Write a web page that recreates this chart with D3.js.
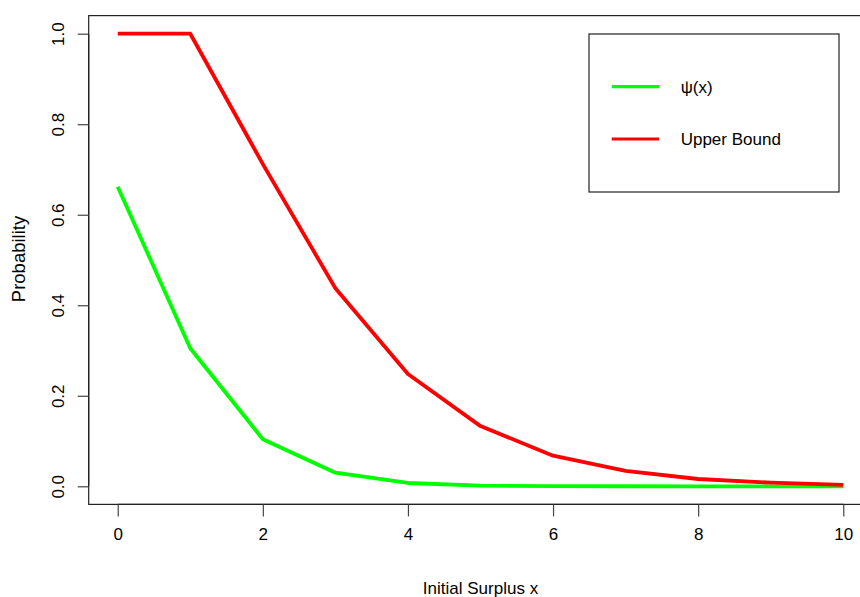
<!DOCTYPE html>
<html>
<head>
<meta charset="utf-8">
<script src="https://cdn.jsdelivr.net/npm/d3@7"></script>
<style>
  html, body { margin: 0; padding: 0; background: #fff; }
  svg { display: block; font-family: "Liberation Sans", Arial, Helvetica, sans-serif; }
</style>
</head>
<body>
<svg id="chart" width="860" height="597"></svg>
<script>
// Initial surplus values
const surplus = [0, 1, 2, 3, 4, 5, 6, 7, 8, 9, 10];
// Ruin probability psi(x)
const psi = [0.662, 0.305, 0.104, 0.030, 0.0073, 0.0015, 0.0003, 0.0001, 0, 0, 0];
// Upper bound on the ruin probability
const upperBound = [1, 1, 0.712, 0.4375, 0.248, 0.133, 0.0676, 0.034, 0.0161, 0.008, 0.003];

const xTicks = [0, 2, 4, 6, 8, 10];
const yTicks = [0.0, 0.2, 0.4, 0.6, 0.8, 1.0];
const legendLabels = ["\u03c8(x)", "Upper Bound"];
const seriesColors = ["#00ff00", "#ff0000"];

const svg = d3.select("#chart");

// Plot region (axes extended 4% beyond the data range on each side)
const x = d3.scaleLinear().domain([-0.4, 10.4]).range([88.7, 872.3]);
const y = d3.scaleLinear().domain([-0.04, 1.04]).range([504.4, 15.6]);

const fontSize = 17;

// Plot frame
svg.append("rect")
  .attr("x", x(-0.4)).attr("y", y(1.04))
  .attr("width", x(10.4) - x(-0.4)).attr("height", y(-0.04) - y(1.04))
  .attr("fill", "none").attr("stroke", "#222").attr("stroke-width", 1.2);

// X axis
const xAxis = d3.axisBottom(x).tickValues(xTicks).tickSize(12).tickPadding(12)
  .tickFormat(d3.format("d"));
const gx = svg.append("g").attr("transform", `translate(0,${y(-0.04)})`).call(xAxis);
gx.select(".domain").attr("d", `M${x(0)},0H${x(10)}`).attr("stroke", "#222").attr("stroke-width", 1.2);
gx.selectAll(".tick line").attr("stroke", "#444").attr("stroke-width", 1.2);
gx.selectAll(".tick text").attr("font-size", fontSize).attr("fill", "#000")
  .attr("font-family", "Liberation Sans, Arial, sans-serif");

// Y axis with rotated labels
const yAxis = d3.axisLeft(y).tickValues(yTicks).tickSize(11)
  .tickFormat(d3.format(".1f"));
const gy = svg.append("g").attr("transform", `translate(${x(-0.4)},0)`).call(yAxis);
gy.select(".domain").attr("d", `M0,${y(0)}V${y(1)}`).attr("stroke", "#222").attr("stroke-width", 1.2);
gy.selectAll(".tick line").attr("stroke", "#444").attr("stroke-width", 1.2);
gy.selectAll(".tick text")
  .attr("font-size", fontSize).attr("fill", "#000")
  .attr("font-family", "Liberation Sans, Arial, sans-serif")
  .attr("x", null).attr("dy", null)
  .attr("text-anchor", "middle")
  .attr("transform", "translate(-25,0) rotate(-90)");

// Axis titles
svg.append("text")
  .attr("x", (x(-0.4) + x(10.4)) / 2).attr("y", 594)
  .attr("text-anchor", "middle").attr("font-size", fontSize)
  .text("Initial Surplus x");
svg.append("text")
  .attr("transform", `translate(25,${(y(-0.04) + y(1.04)) / 2 - 1}) rotate(-90)`)
  .attr("text-anchor", "middle").attr("font-size", 18.5)
  .text("Probability");

// Series lines
const line = d3.line().x((d, i) => x(surplus[i])).y(d => y(d));
[psi, upperBound].forEach((vals, k) => {
  svg.append("path")
    .datum(vals)
    .attr("d", line)
    .attr("fill", "none")
    .attr("stroke", seriesColors[k])
    .attr("stroke-width", 3.8)
    .attr("stroke-linejoin", "round")
    .attr("stroke-linecap", "butt");
});

// Legend
const legend = svg.append("g");
legend.append("rect")
  .attr("x", 589).attr("y", 34).attr("width", 250).attr("height", 158)
  .attr("fill", "#fff").attr("stroke", "#222").attr("stroke-width", 1.2);
const legendRows = [86.7, 139];
legendLabels.forEach((lab, k) => {
  legend.append("line")
    .attr("x1", 611.7).attr("x2", 659)
    .attr("y1", legendRows[k]).attr("y2", legendRows[k])
    .attr("stroke", seriesColors[k]).attr("stroke-width", 3.2);
  legend.append("text")
    .attr("x", 680.7).attr("y", legendRows[k])
    .attr("dy", "0.35em").attr("font-size", fontSize)
    .text(lab);
});
</script>
</body>
</html>
